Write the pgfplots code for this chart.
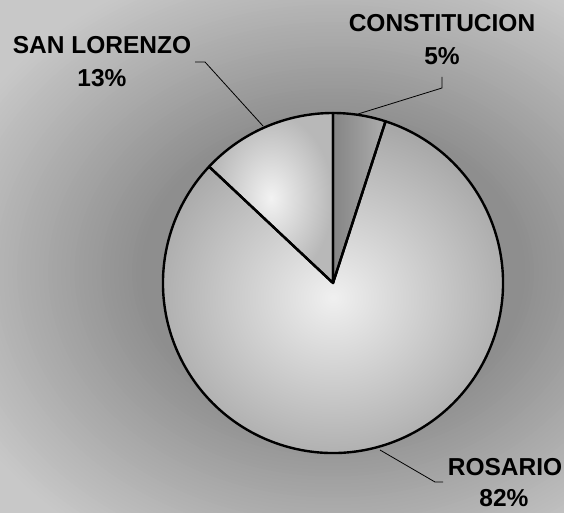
\documentclass[border=0pt]{standalone}
\usepackage{pgfplots}
\pgfplotsset{compat=1.18}
\usepackage{pgfplotstable}
\usepackage{fontspec}
\setmainfont{Liberation Sans}
\definecolor{bgd}{HTML}{8E8E8E}
\definecolor{bgl}{HTML}{C8C8C8}
\pgfplotstableread[col sep=comma]{
name,value
CONSTITUCION,5
SAN LORENZO,13
ROSARIO,82
}\piedata
\newcommand\lbl{\fontsize{24.5}{27}\selectfont\bfseries}
\begin{document}%
\begin{tikzpicture}
\pgfplotstablegetelem{0}{value}\of\piedata \let\vA\pgfplotsretval
\pgfplotstablegetelem{1}{value}\of\piedata \let\vB\pgfplotsretval
\pgfplotstablegetelem{2}{value}\of\piedata \let\vC\pgfplotsretval
\pgfmathsetmacro\aZ{90}
\pgfmathsetmacro\aA{90-3.6*\vA}
\pgfmathsetmacro\aC{\aA-3.6*\vC}
\pgfmathsetmacro\aB{\aC-3.6*\vB}
% background
\begin{scope}
\clip (-2pt,-2pt) rectangle (566pt,514pt);
\fill[bgl] (-2pt,-2pt) rectangle (566pt,514pt);
\foreach \k in {0,...,50}{
  \pgfmathsetmacro\rx{(0.86-0.46*\k/50)*480}
  \pgfmathsetmacro\ry{(0.86-0.46*\k/50)*380}
  \pgfmathtruncatemacro\p{100*\k/50}
  \fill[bgd!\p!bgl] (333pt,240pt) ellipse [x radius=\rx pt, y radius=\ry pt];
}
\end{scope}
\begin{axis}[
  at={(0,0)}, anchor=south west,
  scale only axis, width=564pt, height=512pt,
  xmin=0, xmax=564, ymin=0, ymax=512,
  hide axis, clip=false,
]
% wedges
\shade[inner color=white!94!black, outer color=white!66!black]
  (axis cs:333,229) -- ++(\aA:170pt) arc[start angle=\aA, end angle=\aC, radius=170pt] -- cycle;
\shade[inner color=white!95!black, outer color=white!72!black]
  (axis cs:333,229) -- ++(\aC:170pt) arc[start angle=\aC, end angle=\aB, radius=170pt] -- cycle;
\shade[left color=white!52!black, middle color=white!80!black, right color=white!68!black]
  (axis cs:333,229) -- ++(\aZ:170pt) arc[start angle=\aZ, end angle=\aA, radius=170pt] -- cycle;
% outlines
\draw[line width=2.4pt, line join=round]
  (axis cs:333,229) -- ++(\aZ:170pt) arc[start angle=\aZ, end angle=\aA, radius=170pt] -- cycle;
\draw[line width=2.4pt, line join=round]
  (axis cs:333,229) -- ++(\aA:170pt) arc[start angle=\aA, end angle=\aC, radius=170pt] -- cycle;
\draw[line width=2.4pt, line join=round]
  (axis cs:333,229) -- ++(\aC:170pt) arc[start angle=\aC, end angle=\aB, radius=170pt] -- cycle;
% leader lines
\draw[line width=0.8pt] (axis cs:263,386) -- (axis cs:205,450) -- (axis cs:195,450);
\draw[line width=0.8pt] (axis cs:358,398) -- (axis cs:442,424) -- (axis cs:442,435);
\draw[line width=0.8pt] (axis cs:380,62) -- (axis cs:435,30) -- (axis cs:443,30);
% labels
\node[font=\lbl] at (axis cs:102,467) {SAN LORENZO};
\node[font=\lbl] at (axis cs:102,434) {13\%};
\node[font=\lbl] at (axis cs:442,489) {CONSTITUCION};
\node[font=\lbl] at (axis cs:442,456) {5\%};
\node[font=\lbl] at (axis cs:505,45) {ROSARIO};
\node[font=\lbl] at (axis cs:504,14) {82\%};
\end{axis}
\pgfresetboundingbox
\useasboundingbox (0,0) rectangle (564pt,512pt);
\end{tikzpicture}%
\end{document}
